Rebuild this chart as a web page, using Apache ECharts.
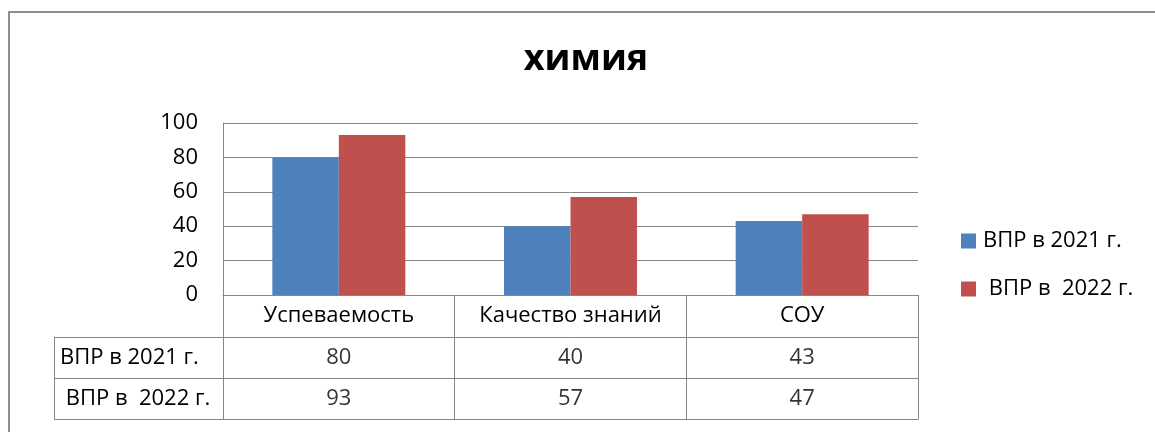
<!DOCTYPE html>
<html>
<head>
<meta charset="utf-8">
<script src="https://cdn.jsdelivr.net/npm/echarts@6/dist/echarts.min.js"></script>
<style>
  html, body { margin: 0; padding: 0; background: #fff; }
  #frame { position: absolute; left: 8px; top: 11px; width: 1300px; height: 600px;
           border-left: 2px solid #8e8e8e; border-top: 2px solid #8e8e8e; }
  #chart { position: absolute; left: 0; top: 0; width: 1155px; height: 432px; }
</style>
</head>
<body>
<div id="frame"></div>
<div id="chart"></div>
<script>
const title = 'химия';
const categories = ['Успеваемость', 'Качество знаний', 'СОУ'];
const seriesNames = ['ВПР в 2021 г.', ' ВПР в  2022 г.'];
const values2021 = [80, 40, 43];
const values2022 = [93, 57, 47];
const yMin = 0, yMax = 100, yStep = 20;

const FONT = 'Open Sans';
const FS = 22;
const GRID_COLOR = '#868686';
const allValues = [values2021, values2022];
const tableData = [];
allValues.forEach((vals, r) => vals.forEach((v, c) => tableData.push([categories[c], seriesNames[r], v])));

const chart = echarts.init(document.getElementById('chart'), null, { renderer: 'canvas' });
chart.setOption({
  backgroundColor: 'transparent',
  animation: false,
  textStyle: { fontFamily: FONT, color: '#000' },
  title: {
    text: title, left: 581, top: 37, textAlign: 'center',
    textStyle: { fontFamily: FONT, fontSize: 36, fontWeight: 'bold', color: '#000' }
  },
  legend: {
    data: seriesNames, orient: 'vertical', left: 956, top: 225,
    icon: 'rect', itemWidth: 15, itemHeight: 15, itemGap: 26,
    textStyle: { fontFamily: FONT, fontSize: FS, color: '#000', padding: [0, 0, 0, 2] }
  },
  grid: [
    { left: 223, top: 123, width: 695, height: 172 },
    { left: 223, top: 337, width: 695, height: 82 }
  ],
  xAxis: [
    { type: 'category', gridIndex: 0, data: categories,
      axisLine: { show: true, lineStyle: { color: GRID_COLOR, width: 1 } },
      axisTick: { show: true, length: 42, interval: 0, lineStyle: { color: GRID_COLOR, width: 1 } },
      axisLabel: { margin: 21, verticalAlign: 'middle', fontSize: FS, color: '#000', fontFamily: FONT, interval: 0 },
      splitLine: { show: false } },
    { type: 'category', gridIndex: 1, data: categories, position: 'bottom',
      axisLine: { show: true, lineStyle: { color: GRID_COLOR, width: 1 } },
      axisTick: { show: false }, axisLabel: { show: false },
      splitLine: { show: true, interval: 0, lineStyle: { color: GRID_COLOR, width: 1 } } }
  ],
  yAxis: [
    { type: 'value', gridIndex: 0, min: yMin, max: yMax, interval: yStep,
      axisLine: { show: true, lineStyle: { color: GRID_COLOR, width: 1 } },
      axisTick: { show: false },
      axisLabel: { margin: 25, fontSize: FS, color: '#000', fontFamily: FONT },
      splitLine: { show: true, lineStyle: { color: GRID_COLOR, width: 1 } } },
    { type: 'category', gridIndex: 1, data: seriesNames, inverse: true, position: 'left',
      axisLine: { show: true, lineStyle: { color: GRID_COLOR, width: 1 } },
      axisTick: { show: true, length: 169, interval: 0, lineStyle: { color: GRID_COLOR, width: 1 } },
      axisLabel: { margin: 163, align: 'left', fontSize: FS, color: '#000', fontFamily: FONT, interval: 0 },
      splitLine: { show: true, interval: 0, lineStyle: { color: GRID_COLOR, width: 1 } } },
    { type: 'category', gridIndex: 1, data: seriesNames, inverse: true, position: 'left', offset: 169,
      axisLine: { show: true, lineStyle: { color: GRID_COLOR, width: 1 } },
      axisTick: { show: false }, axisLabel: { show: false }, splitLine: { show: false } }
  ],
  series: [
    { name: seriesNames[0], type: 'bar', xAxisIndex: 0, yAxisIndex: 0, data: values2021,
      barGap: '0%', barCategoryGap: '42.6%', itemStyle: { color: '#4F81BD' } },
    { name: seriesNames[1], type: 'bar', xAxisIndex: 0, yAxisIndex: 0, data: values2022,
      barGap: '0%', barCategoryGap: '42.6%', itemStyle: { color: '#C0504D' } },
    { name: 'table', type: 'scatter', xAxisIndex: 1, yAxisIndex: 1, data: tableData,
      symbolSize: 1, itemStyle: { color: 'rgba(0,0,0,0)' }, silent: true,
      label: { show: true, position: 'inside', fontSize: FS, color: '#000', fontFamily: FONT,
               formatter: p => String(p.value[2]) } }
  ]
});
</script>
</body>
</html>
